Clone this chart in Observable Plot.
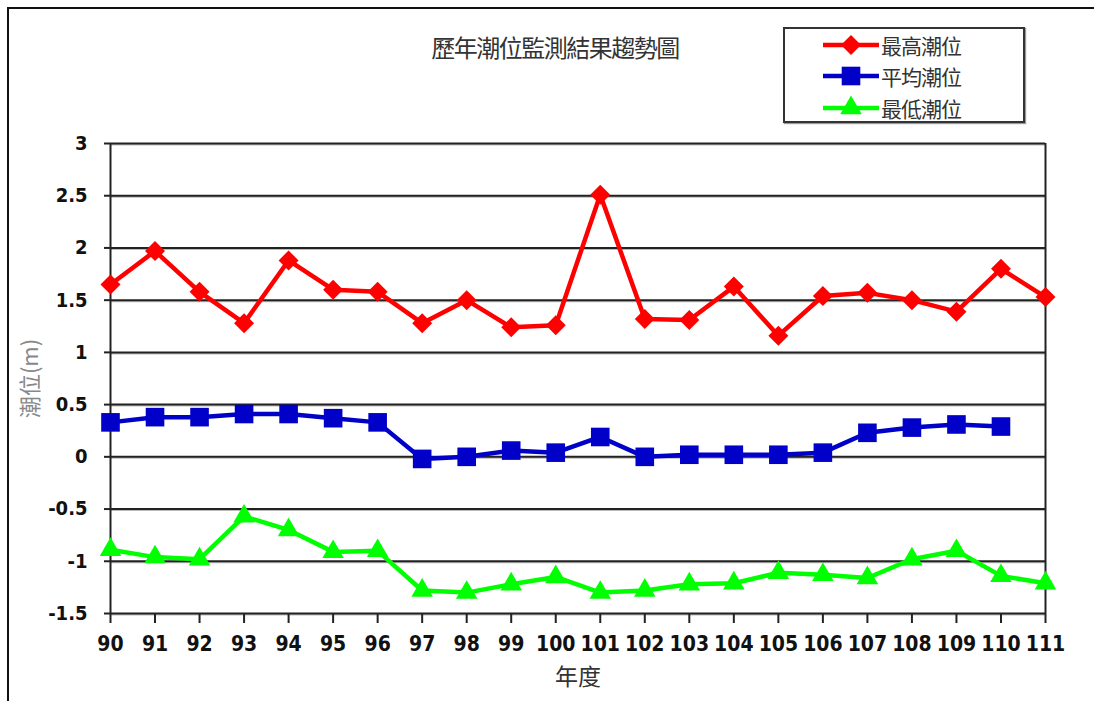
<!DOCTYPE html>
<html>
<head>
<meta charset="utf-8">
<script src="https://cdn.jsdelivr.net/npm/d3@7"></script>
<script src="https://cdn.jsdelivr.net/npm/@observablehq/plot@0.6"></script>
<style>
  html, body { margin: 0; padding: 0; background: #fff; }
  #wrap { position: relative; width: 1094px; height: 701px; overflow: hidden; }
  #border { position: absolute; left: 7px; top: 7px; width: 1100px; height: 720px; border-left: 2px solid #111; border-top: 2px solid #111; box-sizing: border-box; }
  #title { position: absolute; left: 0; top: 29px; width: 1110px; text-align: center; font-family: "Noto Sans CJK TC", sans-serif; font-size: 24px; color: #333; letter-spacing: -1.5px; }
  #legend { position: absolute; left: 783px; top: 27px; width: 242px; height: 96px; border: 2px solid #333; box-sizing: border-box; box-shadow: 1px 1px 1px #999; }
  #legend .item { position: absolute; left: 36px; height: 30px; display: flex; align-items: center; font-family: "Noto Sans CJK TC", sans-serif; font-size: 21px; color: #333; letter-spacing: -1px; }
  #plot { position: absolute; left: 0; top: 0; }
  #plot svg [aria-label^="tick label"] text, #plot svg g[aria-label$="tick label"] { font-family: "Liberation Sans Narrow", "DejaVu Sans Condensed", "Liberation Sans", sans-serif; }
</style>
</head>
<body>
<div id="wrap">
  <div id="border"></div>
  <div id="title">歷年潮位監測結果趨勢圖</div>
  <div id="legend"></div>
  <div id="plot"></div>
</div>
<script>
const years = [90,91,92,93,94,95,96,97,98,99,100,101,102,103,104,105,106,107,108,109,110,111];
const highTide = [1.65,1.97,1.58,1.28,1.88,1.60,1.58,1.28,1.50,1.24,1.26,2.51,1.32,1.31,1.63,1.16,1.54,1.57,1.50,1.39,1.80,1.53];
const meanTide = [0.33,0.38,0.38,0.41,0.41,0.37,0.33,-0.02,0.00,0.06,0.04,0.19,0.00,0.02,0.02,0.02,0.04,0.23,0.28,0.31,0.29,null];
const lowTide = [-0.89,-0.96,-0.98,-0.57,-0.70,-0.91,-0.90,-1.28,-1.30,-1.22,-1.15,-1.30,-1.28,-1.22,-1.21,-1.11,-1.13,-1.16,-0.98,-0.90,-1.14,-1.21];
const seriesNames = ["最高潮位","平均潮位","最低潮位"];
const yTicks = [-1.5,-1,-0.5,0,0.5,1,1.5,2,2.5,3];

const colors = ["#ff0000","#0000c8","#00ff00"];
const symbols = ["diamond2","square","triangle"];
const radii = [9, 10.5, 8];

const rows = [];
[highTide, meanTide, lowTide].forEach((arr, si) => {
  years.forEach((yr, i) => {
    if (arr[i] !== null) rows.push({series: seriesNames[si], year: yr, value: arr[i]});
  });
});

const tickFont = "'Liberation Sans Narrow', 'DejaVu Sans Condensed', 'Liberation Sans', sans-serif";
const fmt = d => String(d);

const chart = Plot.plot({
  width: 1094,
  height: 701,
  marginLeft: 110,
  marginRight: 49,
  marginTop: 143,
  marginBottom: 88,
  style: {fontFamily: tickFont, fontSize: "20px", fontWeight: "bold", color: "#111", background: "transparent"},
  x: {domain: [90, 111]},
  y: {domain: [-1.5, 3]},
  color: {domain: seriesNames, range: colors},
  symbol: {domain: seriesNames, range: symbols},
  marks: [
    Plot.ruleY(yTicks, {stroke: "#bbb", strokeWidth: 2, dy: 1}),
    Plot.ruleY(yTicks, {stroke: "#222", strokeWidth: 2}),
    Plot.ruleX([90, 111], {stroke: "#222", strokeWidth: 2}),
    Plot.axisY({ticks: yTicks, tickFormat: fmt, tickSize: 6, tickPadding: 17, label: null, stroke: "#222", strokeWidth: 2, fontSize: 20, fontWeight: "bold", fontFamily: tickFont}),
    Plot.axisX({ticks: years, tickFormat: fmt, tickSize: 10, tickPadding: 13, label: null, stroke: "#222", strokeWidth: 2, fontSize: 21, fontWeight: "bold", fontFamily: tickFont}),
    Plot.text(["潮位(m)"], {frameAnchor: "left", textAnchor: "middle", dx: -80, dy: 0, rotate: -90, fontSize: 22, fill: "#888", fontWeight: "normal", fontFamily: "Noto Sans CJK TC"}),
    Plot.text(["年度"], {frameAnchor: "bottom", dy: 71, fontSize: 23, fill: "#333", fontWeight: "normal", fontFamily: "Noto Sans CJK TC"}),
    Plot.line(rows, {x: "year", y: "value", z: "series", stroke: "series", strokeWidth: 4.5}),
    ...seriesNames.map((s, i) => Plot.dot(rows.filter(d => d.series === s), {x: "year", y: "value", symbol: "series", fill: colors[i], r: radii[i]}))
  ]
});
document.getElementById("plot").appendChild(chart);

// legend
const legend = document.getElementById("legend");
const tops = [1, 32, 64];
seriesNames.forEach((s, i) => {
  const item = document.createElement("div");
  item.className = "item";
  item.style.top = tops[i] + "px";
  const svg = d3.create("svg").attr("width", 60).attr("height", 30);
  svg.append("line").attr("x1", 2).attr("x2", 58).attr("y1", 15).attr("y2", 15).attr("stroke", colors[i]).attr("stroke-width", 4.5);
  const symMap = {diamond2: d3.symbolDiamond2, square: d3.symbolSquare, triangle: d3.symbolTriangle};
  svg.append("path").attr("transform", "translate(30,15)")
    .attr("d", d3.symbol(symMap[symbols[i]], Math.PI * radii[i] * radii[i])())
    .attr("fill", colors[i]);
  item.appendChild(svg.node());
  const t = document.createElement("span");
  t.textContent = s;
  item.appendChild(t);
  legend.appendChild(item);
});
</script>
</body>
</html>
